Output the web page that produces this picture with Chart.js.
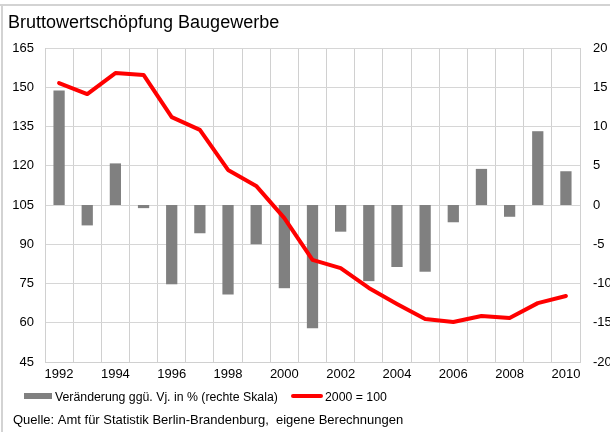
<!DOCTYPE html>
<html><head><meta charset="utf-8">
<script src="https://cdn.jsdelivr.net/npm/chart.js@4"></script>
<style>html,body{margin:0;padding:0;background:#fff}#c{display:block}</style>
</head><body>
<canvas id="c" width="610" height="432"></canvas>
<script>
const years = ['1992','1993','1994','1995','1996','1997','1998','1999','2000','2001','2002','2003','2004','2005','2006','2007','2008','2009','2010'];
const changePct = [14.6,-2.6,5.3,-0.4,-10.1,-3.6,-11.4,-5.0,-10.6,-15.7,-3.4,-9.7,-7.9,-8.5,-2.2,4.6,-1.5,9.4,4.3];
const index2000 = [151.6,147.4,155.4,154.7,138.6,133.7,118.4,112.3,100.0,84.0,80.9,73.3,67.2,61.4,60.3,62.6,61.8,67.5,70.2];
const leftTicks = [45,165,15];
const rightTicks = [-20,20,5];
const titleText = 'Bruttowertschöpfung Baugewerbe';
const sourceText = 'Quelle: Amt für Statistik Berlin-Brandenburg,  eigene Berechnungen';
const barLabel = 'Veränderung ggü. Vj. in % (rechte Skala)';
const lineLabel = '2000 = 100';

const FONT = '"Liberation Sans", Arial, sans-serif';

const decor = {
  id: 'decor',
  beforeDraw(chart) {
    const ctx = chart.ctx;
    ctx.save();
    ctx.fillStyle = '#fff';
    ctx.fillRect(0, 0, chart.width, chart.height);
    ctx.fillStyle = '#d3d3d3';
    ctx.fillRect(0, 4, chart.width, 2);
    ctx.fillRect(1, 4, 2, chart.height - 4);
    ctx.restore();
  },
  afterDraw(chart) {
    const ctx = chart.ctx;
    ctx.save();
    ctx.fillStyle = '#000';
    ctx.textBaseline = 'alphabetic';
    ctx.textAlign = 'left';
    ctx.font = '18px ' + FONT;
    ctx.fillText(titleText, 8, 28);
    // legend
    const ds = chart.data.datasets;
    ctx.fillStyle = ds[1].backgroundColor;
    ctx.fillRect(24, 393, 28, 6);
    ctx.fillStyle = '#000';
    ctx.font = '12.3px ' + FONT;
    ctx.fillText(ds[1].label, 55, 401);
    ctx.strokeStyle = ds[0].borderColor;
    ctx.lineWidth = 4;
    ctx.lineCap = 'round';
    ctx.beginPath();
    ctx.moveTo(293, 396);
    ctx.lineTo(321, 396);
    ctx.stroke();
    ctx.fillText(ds[0].label, 325, 401);
    ctx.font = '13px ' + FONT;
    ctx.fillText(sourceText, 13, 424);
    ctx.restore();
  }
};

new Chart(document.getElementById('c'), {
  data: {
    labels: years,
    datasets: [
      { type: 'line', label: lineLabel, data: index2000, yAxisID: 'yL', borderColor: '#ff0000', borderWidth: 4, pointRadius: 0, tension: 0, order: 1, borderJoinStyle: 'round', borderCapStyle: 'round' },
      { type: 'bar', label: barLabel, data: changePct, yAxisID: 'yR', backgroundColor: '#808080', barPercentage: 0.4, categoryPercentage: 1.0, order: 2 }
    ]
  },
  options: {
    responsive: false,
    animation: false,
    devicePixelRatio: 1,
    layout: { padding: { top: 48, bottom: 48, left: 0, right: 0 } },
    plugins: { legend: { display: false }, title: { display: false }, tooltip: { enabled: false } },
    scales: {
      x: {
        offset: true,
        grid: { offset: true, color: '#d0d0d0', drawTicks: false },
        border: { color: '#d0d0d0' },
        ticks: { autoSkip: false, maxRotation: 0, padding: 5, color: '#000', font: { family: FONT, size: 13 },
          callback: (v, i) => (i % 2 === 0 ? years[i] : '') },
        afterFit: s => { s.height = 22; }
      },
      yL: {
        position: 'left', min: leftTicks[0], max: leftTicks[1],
        ticks: { stepSize: leftTicks[2], padding: 11, color: '#000', font: { family: FONT, size: 13 } },
        grid: { color: '#d6d6d6', drawTicks: false },
        border: { color: '#d0d0d0' },
        afterFit: s => { s.width = 45; }
      },
      yR: {
        position: 'right', min: rightTicks[0], max: rightTicks[1],
        ticks: { stepSize: rightTicks[2], padding: 13, color: '#000', font: { family: FONT, size: 13 } },
        grid: { display: false, drawTicks: false },
        border: { color: '#d0d0d0' },
        afterFit: s => { s.width = 30; }
      }
    }
  },
  plugins: [decor]
});
</script>
</body></html>
